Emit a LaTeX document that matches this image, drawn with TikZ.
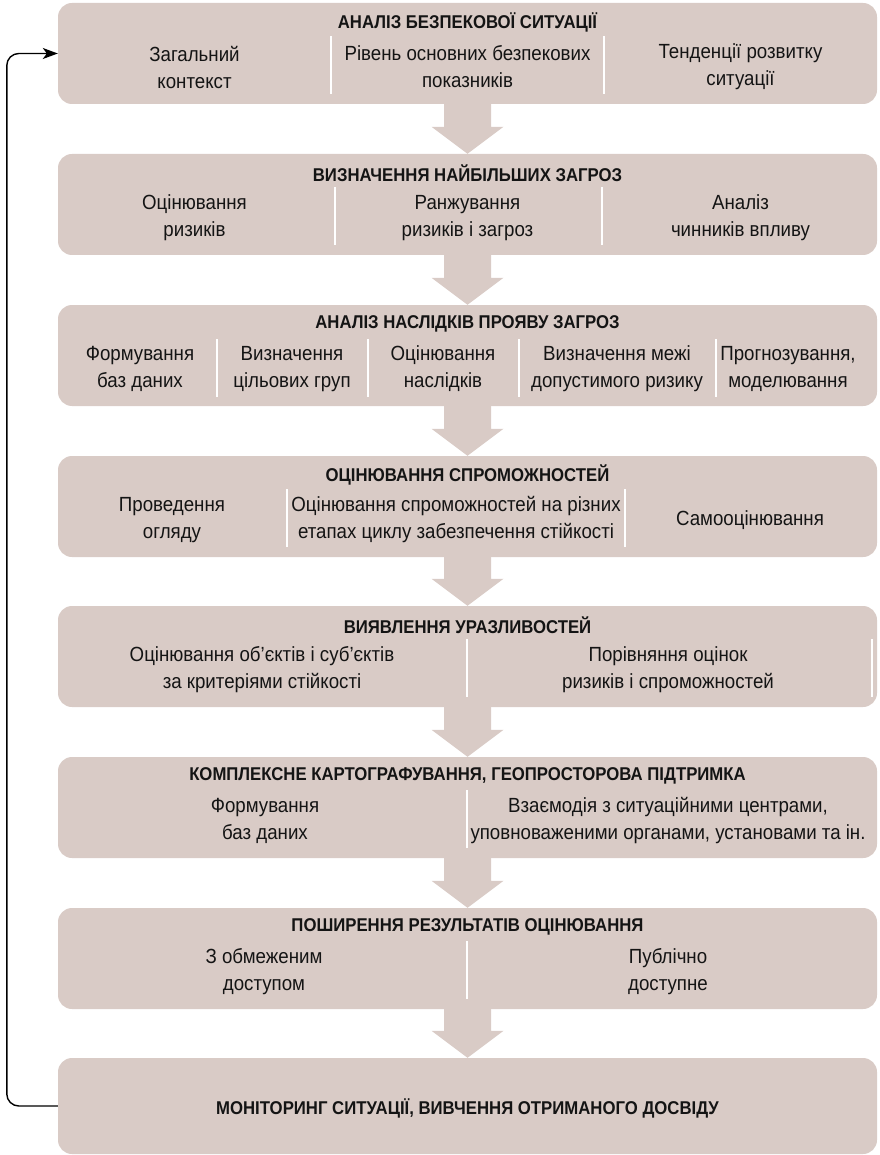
\documentclass[tikz,border=0pt]{standalone}
\usepackage{fontspec}
\setmainfont{Liberation Sans}
\newfontfamily\bodyfont{Liberation Sans}[FakeStretch=0.912]
\newfontfamily\headfont{Liberation Sans}[FakeStretch=0.905]
\usetikzlibrary{arrows.meta,calc}
\definecolor{boxfill}{RGB}{217,203,198}
\definecolor{ink}{RGB}{20,20,20}
\newcommand\flowarrow[2]{%
  \fill[boxfill] ($(#1.south)+(-23.5,0)$) -- ($(#2.north)+(-23.5,-27)$) -- ++(-12.5,0)
    -- (#2.north) -- ($(#2.north)+(36,-27)$) -- ++(-12.5,0) -- ($(#1.south)+(23.5,0)$) -- cycle;}
\begin{document}
\begin{tikzpicture}[x=1pt,y=-1pt,
  box/.style={fill=boxfill, rounded corners=14pt, minimum width=819pt, minimum height=101pt, inner sep=0pt},
  head/.style={text=ink, font=\headfont\bfseries\fontsize{18.5}{22}\selectfont, inner sep=0pt},
  txt/.style={text=ink, font=\bodyfont\fontsize{20.5}{27}\selectfont, align=center, inner sep=0pt},
  sep/.style={draw=white, line width=1.8pt},
  fb/.style={draw=black, line width=1.4pt, rounded corners=12pt, -{Stealth[length=15pt,width=11pt,inset=4pt]}}]
\useasboundingbox (0,0) rectangle (879,1155);
% boxes
\node[box] (b1) at (467.5,53.5) {};
\node[box] (b2) at (467.5,204.5) {};
\node[box] (b3) at (467.5,355.5) {};
\node[box] (b4) at (467.5,506.5) {};
\node[box] (b5) at (467.5,656.5) {};
\node[box] (b6) at (467.5,807.5) {};
\node[box] (b7) at (467.5,958.5) {};
\node[box, minimum height=96pt] (b8) at (467.5,1106) {};
% arrows
\flowarrow{b1}{b2}
\flowarrow{b2}{b3}
\flowarrow{b3}{b4}
\flowarrow{b4}{b5}
\flowarrow{b5}{b6}
\flowarrow{b6}{b7}
\flowarrow{b7}{b8}
% box 1
\node[head] (h1) at (467.5,22) {АНАЛІЗ БЕЗПЕКОВОЇ СИТУАЦІЇ};
\node[txt] (t11) at (194.5,67) {Загальний\\контекст};
\node[txt] (t12) at (467.5,67) {Рівень основних безпекових\\показників};
\node[txt] (t13) at (740.5,67) {Тенденції розвитку\\ситуації};
\draw[sep] (331,36) -- (331,94);
\draw[sep] (604,36) -- (604,94);
% box 2
\node[head] (h2) at (467.5,173) {ВИЗНАЧЕННЯ НАЙБІЛЬШИХ ЗАГРОЗ};
\node[txt] (t21) at (194.5,218) {Оцінювання\\ризиків};
\node[txt] (t22) at (467.5,218) {Ранжування\\ризиків і загроз};
\node[txt] (t23) at (740.5,218) {Аналіз\\чинників впливу};
\draw[sep] (335,187) -- (335,245);
\draw[sep] (602,187) -- (602,245);
% box 3
\node[head] (h3) at (467.5,324) {АНАЛІЗ НАСЛІДКІВ ПРОЯВУ ЗАГРОЗ};
\node[txt] (t31) at (140,369) {Формування\\баз даних};
\node[txt] (t32) at (292,369) {Визначення\\цільових груп};
\node[txt] (t33) at (443,369) {Оцінювання\\наслідків};
\node[txt] (t34) at (617,369) {Визначення межі\\допустимого ризику};
\node[txt] (t35) at (788,369) {Прогнозування,\\моделювання};
\draw[sep] (217,339) -- (217,397);
\draw[sep] (368,339) -- (368,397);
\draw[sep] (519,339) -- (519,397);
\draw[sep] (716,339) -- (716,397);
% box 4
\node[head] (h4) at (467.5,475) {ОЦІНЮВАННЯ СПРОМОЖНОСТЕЙ};
\node[txt] (t41) at (172,520) {Проведення\\огляду};
\node[txt] (t42) at (456,520) {Оцінювання спроможностей на різних\\етапах циклу забезпечення стійкості};
\node[txt] (t43) at (750,520) {Самооцінювання};
\draw[sep] (287,489) -- (287,547);
\draw[sep] (625,489) -- (625,547);
% box 5
\node[head] (h5) at (467.5,625) {ВИЯВЛЕННЯ УРАЗЛИВОСТЕЙ};
\node[txt] (t51) at (262,670) {Оцінювання об’єктів і суб’єктів\\за критеріями стійкості};
\node[txt] (t52) at (668,670) {Порівняння оцінок\\ризиків і спроможностей};
\draw[sep] (467,639) -- (467,697);
\draw[sep] (872,639) -- (872,697);
% box 6
\node[head] (h6) at (467.5,776) {КОМПЛЕКСНЕ КАРТОГРАФУВАННЯ, ГЕОПРОСТОРОВА ПІДТРИМКА};
\node[txt] (t61) at (265,821) {Формування\\баз даних};
\node[txt] (t62) at (668,821) {Взаємодія з ситуаційними центрами,\\уповноваженими органами, установами та ін.};
\draw[sep] (467,790) -- (467,848);
% box 7
\node[head] (h7) at (467.5,927) {ПОШИРЕННЯ РЕЗУЛЬТАТІВ ОЦІНЮВАННЯ};
\node[txt] (t71) at (264,972) {З обмеженим\\доступом};
\node[txt] (t72) at (668,972) {Публічно\\доступне};
\draw[sep] (467,941) -- (467,999);
% box 8
\node[head] (h8) at (467.5,1108) {МОНІТОРИНГ СИТУАЦІЇ, ВИВЧЕННЯ ОТРИМАНОГО ДОСВІДУ};
% feedback
\draw[fb] (b8.west) -- ++(-51,0) |- (b1.west);
\end{tikzpicture}
\end{document}
